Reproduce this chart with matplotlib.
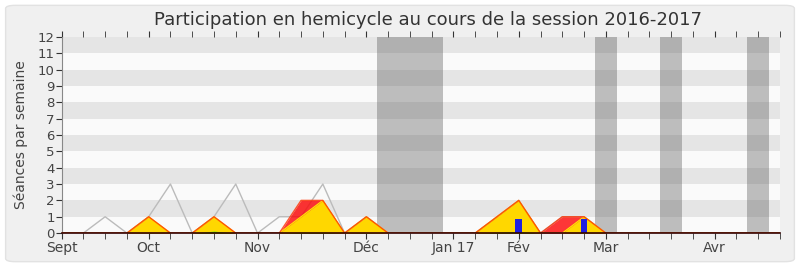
import matplotlib
matplotlib.use('Agg')
import matplotlib.pyplot as plt
from matplotlib.patches import FancyBboxPatch

# weekly index 0..33, starting first week of September 2016
weeks = list(range(34))
total_seances = [0, 0, 1, 0, 1, 3, 0, 1, 3, 0, 1, 1, 3, 0, 1, 0, 0, 0, 0, 0,
                 1, 2, 0, 1, 1, 0, 0, 0, 0, 0, 0, 0, 0, 0]
presences = [0, 0, 0, 0, 1, 0, 0, 1, 0, 0, 0, 2, 2, 0, 1, 0, 0, 0, 0, 0,
             1, 2, 0, 1, 1, 0, 0, 0, 0, 0, 0, 0, 0, 0]
participations = [0, 0, 0, 0, 1, 0, 0, 1, 0, 0, 0, 1, 2, 0, 1, 0, 0, 0, 0, 0,
                  1, 2, 0, 0, 1, 0, 0, 0, 0, 0, 0, 0, 0, 0]
mots = [0, 0, 0, 0, 0.02, 0, 0, 0.12, 0, 0, 0, 0.05, 0.05, 0, 0.03, 0, 0, 0, 0, 0,
        0.05, 0.1, 0, 0, 0.02, 0, 0, 0, 0, 0, 0, 0, 0, 0]
questions_weeks = [21, 24]
questions = [0.85, 0.85]

vacances = [(14.5, 17.5), (24.5, 25.5), (27.5, 28.5), (31.5, 32.5)]
month_pos = [0, 4, 9, 14, 18, 21, 25, 30]
month_labels = ['Sept', 'Oct', 'Nov', 'Déc', 'Jan 17', 'Fév', 'Mar', 'Avr']

plt.rcParams['font.family'] = ['DejaVu Sans']

fig = plt.figure(figsize=(8, 2.67), dpi=100, facecolor='white')
fig.patches.append(FancyBboxPatch((0.007, 0.02), 0.986, 0.96,
                                  boxstyle='round,pad=0,rounding_size=0.012',
                                  transform=fig.transFigure, facecolor='#f0f0f0',
                                  edgecolor='#e2e2e2', linewidth=1, zorder=-10))

ax = fig.add_axes([0.077, 0.127, 0.898, 0.735])
ax.set_facecolor('#fafafa')

for y in range(0, 12):
    if y % 2 == 1:
        ax.axhspan(y, y + 1, color='#e5e5e5', lw=0, zorder=0)
for a, b in vacances:
    ax.axvspan(a, b, color='#5a5a5a', alpha=0.38, lw=0, zorder=1)

ax.plot(weeks, total_seances, color='#bbbbbb', lw=1, zorder=2)
ax.fill_between(weeks, presences, color='#ff0000', alpha=0.78, lw=0, zorder=3)
ax.fill_between(weeks, participations, color='#ffd700', lw=0, zorder=4)
ax.plot(weeks, participations, color='#ffee00', lw=0.8, zorder=4)
ax.plot(weeks, presences, color='#ff3000', lw=1, alpha=0.8, zorder=5)
ax.fill_between(weeks, mots, color='#00ff00', alpha=0.8, lw=0, zorder=6)
ax.bar(questions_weeks, questions, width=0.3, color='#2020e0', zorder=7)

ax.set_xlim(0, 33)
ax.set_ylim(0, 12)
ax.set_yticks(range(0, 13))
ax.set_xticks(weeks, minor=True)
ax.set_xticks(month_pos)
ax.set_xticklabels(month_labels)
ax.tick_params(axis='x', which='both', top=True, bottom=True, direction='out',
               length=4, color='#333333', labelsize=10, labelcolor='#444444', pad=2)
ax.tick_params(axis='y', direction='out', length=4, color='#333333',
               labelsize=9.5, labelcolor='#444444', pad=1)
for s in ['top', 'right']:
    ax.spines[s].set_visible(False)
ax.spines['left'].set_color('#888888')
ax.spines['bottom'].set_color('#330000')
ax.spines['bottom'].set_linewidth(1.2)
ax.spines['bottom'].set_zorder(8)

ax.set_ylabel('Séances par semaine', fontsize=10, color='#444444', labelpad=7)
fig.suptitle('Participation en hemicycle au cours de la session 2016-2017',
             fontsize=13, color='#333333', y=0.96, x=0.535)

fig.savefig('out.png', dpi=100, facecolor=fig.get_facecolor())
